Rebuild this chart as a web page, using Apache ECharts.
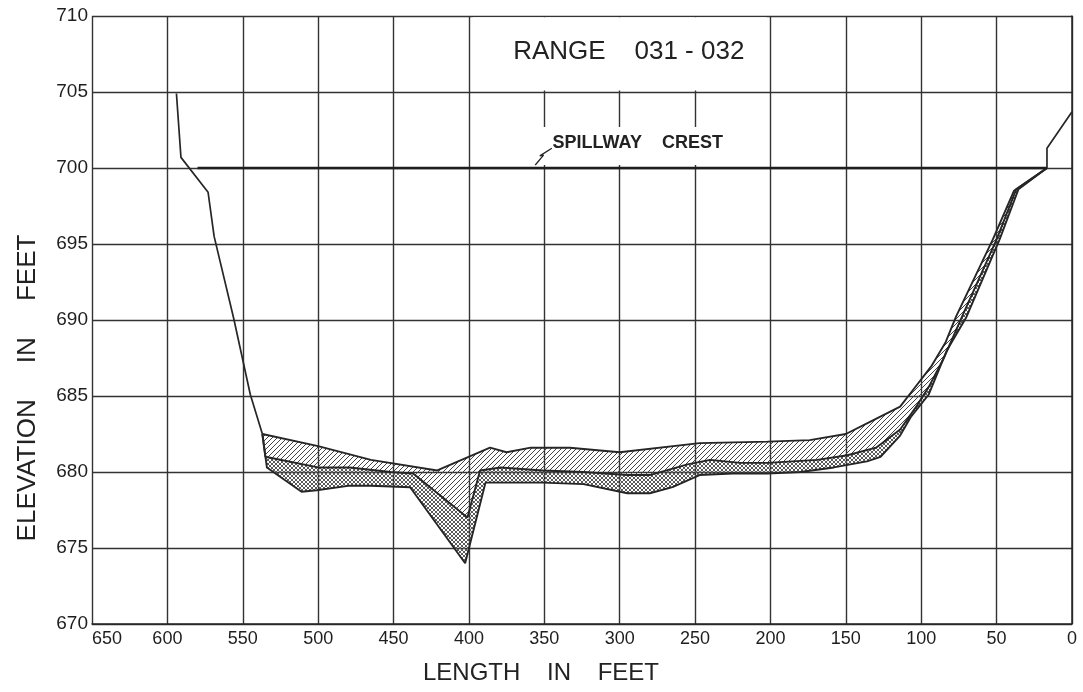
<!DOCTYPE html>
<html>
<head>
<meta charset="utf-8">
<title>Range 031-032</title>
<script src="https://cdn.jsdelivr.net/npm/echarts@6/dist/echarts.min.js"></script>
<style>
    html, body { margin: 0; padding: 0; background: #fff; }
    #chart { width: 1083px; height: 692px; }
</style>
</head>
<body>
<div id="chart"></div>
<script>
// length (ft) / elevation (ft) pairs, left bank to right bank
const leftBank = [[594, 704.9], [591, 700.7], [573, 698.4], [569, 695.5], [556, 690.1], [545, 685.1], [537, 682.5]]
const rightBank = [[16.6, 700], [16.6, 701.3], [0, 703.7]]

// latest survey (top of the hatched band)
const topLine = [
    [537, 682.5], [500, 681.7], [465, 680.8], [421, 680.1], [386, 681.6], [375, 681.3], [359, 681.6],
    [333, 681.6], [300, 681.3], [247, 681.9], [202, 682.0], [174, 682.1], [150, 682.5], [134, 683.3],
    [114, 684.3], [107, 685.2], [93, 687.0], [84, 688.5], [77, 690.2], [52.5, 695.3], [38.5, 698.5], [16.6, 700]
]
// intermediate survey
const midLine = [
    [537, 682.5], [535, 681.0], [500, 680.3], [479, 680.3], [452, 680.0], [437, 679.9], [401, 677.0],
    [392.6, 680.1], [379, 680.3], [351, 680.1], [324, 680.0], [295, 679.8], [280, 679.8], [255, 680.5],
    [240, 680.8], [220, 680.6], [202, 680.6], [169, 680.8], [149, 681.1], [130, 681.6], [114, 682.8],
    [104, 684.2], [95, 685.6], [85, 687.5], [73, 690.2], [50, 695.3], [37, 698.6], [16.6, 700]
]
// original ground
const lowLine = [
    [537, 682.5], [534, 680.3], [511, 678.7], [501, 678.8], [479, 679.1], [465, 679.1], [439, 679.0],
    [402.5, 674.0], [389, 679.3], [351, 679.3], [324, 679.2], [295, 678.6], [280, 678.6], [265, 679.0],
    [247, 679.8], [225, 679.9], [202, 679.9], [180, 680.0], [158, 680.3], [136, 680.7], [127, 681.0],
    [114, 682.4], [107, 683.6], [95, 685.1], [83, 688.0], [70, 690.2], [48, 695.3], [35.5, 698.6], [16.6, 700]
]

const crestLine = [[580, 700], [16.6, 700]]
const crestLeader = [[356, 700.2], [350.5, 700.85], [353, 700.8], [345, 701.3]]

const titleText = 'RANGE    031 - 032'
const crestText = 'SPILLWAY    CREST'
const titlePos = [294, 707.66]
const crestPos = [288, 701.64]

const FONT = '"Liberation Sans", Arial, sans-serif'
const INK = '#262626'

function makeHatch(size, cross, color) {
    const c = document.createElement('canvas')
    c.width = c.height = size
    const g = c.getContext('2d')
    g.strokeStyle = color
    g.lineWidth = 1
    g.beginPath()
    g.moveTo(-1, size + 1); g.lineTo(size + 1, -1)
    g.moveTo(-1, 1); g.lineTo(1, -1)
    g.moveTo(size - 1, size + 1); g.lineTo(size + 1, size - 1)
    if (cross) {
        g.moveTo(-1, -1); g.lineTo(size + 1, size + 1)
        g.moveTo(size - 1, -1); g.lineTo(size + 1, 1)
        g.moveTo(-1, size - 1); g.lineTo(1, size + 1)
    }
    g.stroke()
    return c
}

const diagPattern = { image: makeHatch(5, false, '#444'), repeat: 'repeat' }
const crossPattern = { image: makeHatch(4, true, '#5a5a5a'), repeat: 'repeat' }

function band(upper, lower, fill) {
    const poly = upper.concat(lower.slice().reverse())
    return {
        type: 'custom',
        silent: true,
        clip: true,
        z: 2,
        data: [poly[0]],
        renderItem(params, api) {
            return {
                type: 'polygon',
                shape: { points: poly.map(p => api.coord(p)) },
                style: { fill: fill, stroke: null },
            }
        },
    }
}

function profile(data, width) {
    return {
        type: 'line',
        data: data,
        symbol: 'none',
        silent: true,
        z: 3,
        lineStyle: { color: INK, width: width },
    }
}

const chart = echarts.init(document.getElementById('chart'))
const option = {
    animation: false,
    backgroundColor: '#fff',
    grid: { left: 92, right: 11, top: 16, bottom: 68 },
    xAxis: {
        type: 'value',
        inverse: true,
        min: 0,
        max: 650,
        interval: 50,
        axisLine: { show: true, lineStyle: { color: INK, width: 1.5 } },
        axisTick: { show: false },
        splitLine: { show: true, lineStyle: { color: '#333', width: 1.4 } },
        axisLabel: {
            color: '#1e1e1e',
            fontFamily: FONT,
            fontSize: 18,
            margin: 6,
            alignMaxLabel: 'left',
        },
    },
    yAxis: {
        type: 'value',
        min: 670,
        max: 710,
        interval: 5,
        axisLine: { show: true, lineStyle: { color: INK, width: 1.5 } },
        axisTick: { show: false },
        splitLine: { show: true, lineStyle: { color: '#333', width: 1.4 } },
        axisLabel: {
            color: '#1e1e1e',
            fontFamily: FONT,
            fontSize: 19,
            margin: 4,
        },
    },
    graphic: [
        {
            type: 'text',
            x: 28,
            y: 388,
            rotation: Math.PI / 2,
            style: {
                text: 'ELEVATION     IN     FEET',
                font: '26px ' + FONT,
                fill: '#222',
                textAlign: 'center',
                textVerticalAlign: 'middle',
            },
        },
        {
            type: 'text',
            x: 541,
            y: 673,
            style: {
                text: 'LENGTH    IN    FEET',
                font: '24px ' + FONT,
                fill: '#222',
                textAlign: 'center',
                textVerticalAlign: 'middle',
            },
        },
    ],
    series: [
        band(topLine, midLine, diagPattern),
        band(midLine, lowLine, crossPattern),
        profile(leftBank, 1.7),
        profile(rightBank, 1.7),
        profile(topLine, 1.9),
        profile(midLine, 1.9),
        profile(lowLine, 1.9),
        {
            type: 'line',
            data: crestLine,
            symbol: 'none',
            silent: true,
            z: 3,
            lineStyle: { color: '#1e1e1e', width: 2.5 },
            // white boxes behind the lettering
            markArea: {
                silent: true,
                itemStyle: { color: '#fff', opacity: 1 },
                data: [
                    [{ coord: [397.5, 705.1] }, { coord: [202.5, 709.92] }],
                    [{ coord: [397.5, 700.2] }, { coord: [202.5, 702.7] }],
                ],
            },
            markPoint: {
                silent: true,
                symbol: 'rect',
                symbolSize: 1,
                itemStyle: { color: 'rgba(0,0,0,0)' },
                label: { show: true, position: 'inside', fontFamily: FONT, color: '#222' },
                data: [
                    { coord: titlePos, label: { formatter: titleText, fontSize: 26 } },
                    { coord: crestPos, label: { formatter: crestText, fontSize: 18, fontWeight: 'bold' } },
                ],
            },
        },
        profile(crestLeader, 1.3),
    ],
}
chart.setOption(option)
</script>
</body>
</html>
